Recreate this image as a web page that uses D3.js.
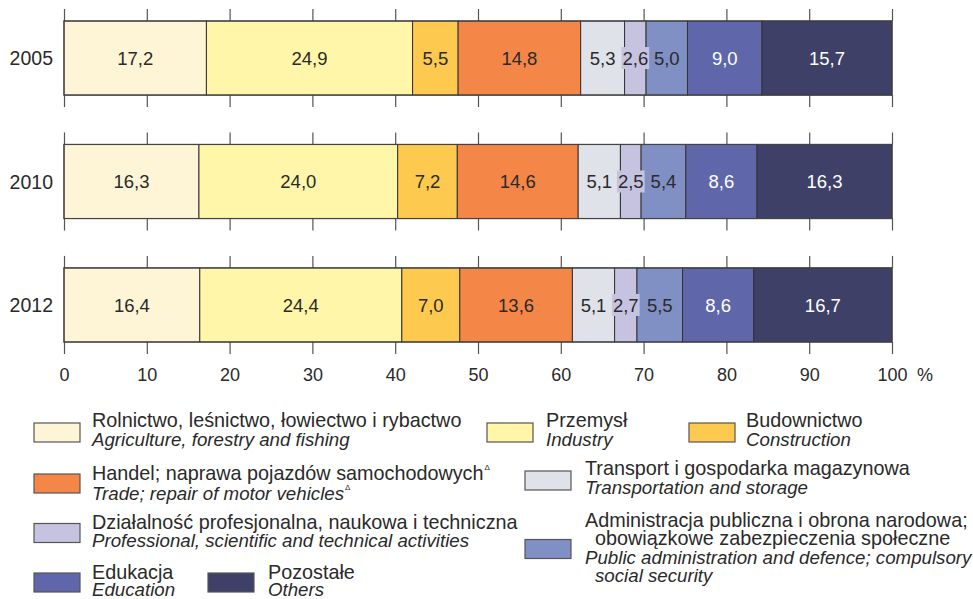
<!DOCTYPE html>
<html>
<head>
<meta charset="utf-8">
<script src="https://cdn.jsdelivr.net/npm/d3@7"></script>
<style>
  html, body { margin: 0; padding: 0; background: #ffffff; }
  svg { display: block; font-family: "Liberation Sans", Arial, Helvetica, sans-serif; }
</style>
</head>
<body>
<svg id="chart" width="973" height="599"></svg>
<script>
// ---------- DATA ----------
const years = ["2005", "2010", "2012"];
const sectorsPL = [
  "Rolnictwo, leśnictwo, łowiectwo i rybactwo",
  "Przemysł",
  "Budownictwo",
  "Handel; naprawa pojazdów samochodowych",
  "Transport i gospodarka magazynowa",
  "Działalność profesjonalna, naukowa i techniczna",
  "Administracja publiczna i obrona narodowa;|obowiązkowe zabezpieczenia społeczne",
  "Edukacja",
  "Pozostałe"
];
const sectorsEN = [
  "Agriculture, forestry and fishing",
  "Industry",
  "Construction",
  "Trade; repair of motor vehicles",
  "Transportation and storage",
  "Professional, scientific and technical activities",
  "Public administration and defence; compulsory|social security",
  "Education",
  "Others"
];
const values2005 = [17.2, 24.9, 5.5, 14.8, 5.3, 2.6, 5.0, 9.0, 15.7];
const values2010 = [16.3, 24.0, 7.2, 14.6, 5.1, 2.5, 5.4, 8.6, 16.3];
const values2012 = [16.4, 24.4, 7.0, 13.6, 5.1, 2.7, 5.5, 8.6, 16.7];
const tickValues = [0, 10, 20, 30, 40, 50, 60, 70, 80, 90, 100];
const footnoteMark = "\u0394"; // Δ marker used for Trade
const markedSector = 3;

// ---------- STYLES ----------
const colors = ["#fdf5d6", "#fff6a9", "#fdc94f", "#f48647", "#e0e2ea", "#c6c3e0", "#8190c4", "#5f67aa", "#3e4068"];
const labelColors = ["#2a2a2a", "#2a2a2a", "#2a2a2a", "#2a2a2a", "#2a2a2a", "#2a2a2a", "#2a2a2a", "#ffffff", "#ffffff"];
const textColor = "#2a2a2a";

const svg = d3.select("#chart");
const seriesByYear = [values2005, values2010, values2012];

const x = d3.scaleLinear().domain([0, 100]).range([64, 892]);
const y = d3.scaleBand().domain(years).range([21, 342]).paddingInner(0.4).paddingOuter(0);
const fmt = v => d3.format(".1f")(v).replace(".", ",");

// stacked rows
const rows = years.map((yr, i) => {
  let acc = 0;
  return {
    year: yr,
    segs: seriesByYear[i].map((v, k) => { const s = { k, v, x0: acc, x1: acc + v }; acc += v; return s; })
  };
});

// ticks per bar
rows.forEach((row, i) => {
  const top = y(row.year), bot = top + y.bandwidth();
  const gt = svg.append("g").attr("transform", `translate(0,${top})`)
    .call(d3.axisTop(x).tickValues(tickValues).tickSize(12).tickFormat(""));
  gt.select(".domain").remove();
  gt.selectAll(".tick line").attr("stroke", "#555").attr("stroke-width", 1.2);
  const isLast = i === rows.length - 1;
  const gb = svg.append("g").attr("transform", `translate(0,${bot})`)
    .call(d3.axisBottom(x).tickValues(tickValues).tickSize(12).tickPadding(14)
      .tickFormat(isLast ? d3.format("d") : ""));
  gb.select(".domain").remove();
  gb.selectAll(".tick line").attr("stroke", "#555").attr("stroke-width", 1.2);
  gb.selectAll(".tick text").attr("font-size", 18).attr("fill", textColor)
    .attr("font-family", "Liberation Sans, Arial, sans-serif");
});

// percent sign
svg.append("text").attr("x", x(100) + 25).attr("y", y("2012") + y.bandwidth() + 38.5)
  .attr("font-size", 18).attr("fill", textColor).text("%");

// bars
const barG = svg.selectAll("g.bar").data(rows).join("g").attr("class", "bar")
  .attr("transform", d => `translate(0,${y(d.year)})`);

barG.selectAll("rect.seg").data(d => d.segs).join("rect").attr("class", "seg")
  .attr("x", d => x(d.x0)).attr("width", d => x(d.x1) - x(d.x0))
  .attr("y", 0).attr("height", y.bandwidth())
  .attr("fill", d => colors[d.k]).attr("stroke", "#333").attr("stroke-width", 1);

// outer frame
barG.append("rect").attr("x", x(0)).attr("width", x(100) - x(0))
  .attr("y", 0).attr("height", y.bandwidth()).attr("fill", "none")
  .attr("stroke", "#444").attr("stroke-width", 1.2);

// value labels
barG.each(function (row) {
  const g = d3.select(this);
  row.segs.forEach(s => {
    const cx = (x(s.x0) + x(s.x1)) / 2, cy = y.bandwidth() / 2;
    const t = g.append("text").attr("x", cx).attr("y", cy).attr("dy", "0.36em")
      .attr("text-anchor", "middle").attr("font-size", 18.5)
      .attr("fill", labelColors[s.k]).text(fmt(s.v));
    const bb = t.node().getBBox();
    const segW = x(s.x1) - x(s.x0);
    if (bb.width + 2 > segW) {
      g.insert("rect", () => t.node())
        .attr("x", bb.x - 1).attr("y", cy - 11).attr("width", bb.width + 2).attr("height", 22)
        .attr("fill", colors[s.k]);
    }
  });
});

// year labels
svg.selectAll("text.year").data(years).join("text").attr("class", "year")
  .attr("x", 53).attr("y", d => y(d) + y.bandwidth() / 2).attr("dy", "0.36em")
  .attr("text-anchor", "end").attr("font-size", 19.5).attr("fill", textColor).text(d => d);

// ---------- LEGEND ----------
// baselines for each text line (Polish lines first, then English lines)
const legendLayout = [
  { sx: 34, sy: 423, tx: 92, b: [427, 446] },
  { sx: 487, sy: 423, tx: 546, b: [427, 446] },
  { sx: 689, sy: 423, tx: 746, b: [427, 446] },
  { sx: 34, sy: 474, tx: 92, b: [480, 500] },
  { sx: 525, sy: 471, tx: 585, b: [475, 494] },
  { sx: 34, sy: 523.5, tx: 92, b: [529, 547] },
  { sx: 525, sy: 539.5, tx: 585, b: [527, 545, 564, 582] },
  { sx: 34, sy: 573, tx: 92, b: [579, 596] },
  { sx: 208, sy: 573, tx: 268, b: [579, 596] }
];
const fontRegular = 19.8;
const fontItalic = 18.7;

const lg = svg.append("g");
sectorsPL.forEach((pl, k) => {
  const L = legendLayout[k];
  lg.append("rect").attr("x", L.sx).attr("y", L.sy).attr("width", 46).attr("height", 19)
    .attr("fill", colors[k]).attr("stroke", "#555").attr("stroke-width", 1.2);
  const lines = [];
  pl.split("|").forEach((s, j) => lines.push({ s, it: false, indent: j > 0 }));
  sectorsEN[k].split("|").forEach((s, j) => lines.push({ s, it: true, indent: j > 0 }));
  lines.forEach((ln, j) => {
    const t = lg.append("text").attr("x", L.tx + (ln.indent ? 10 : 0)).attr("y", L.b[j])
      .attr("font-size", ln.it ? fontItalic : fontRegular).attr("fill", textColor)
      .attr("font-style", ln.it ? "italic" : "normal");
    t.append("tspan").text(ln.s);
    if (k === markedSector) {
      t.append("tspan").attr("font-size", 8).attr("font-style", "normal")
        .attr("dy", -10).attr("dx", 1).text(footnoteMark);
    }
  });
});
</script>
</body>
</html>
